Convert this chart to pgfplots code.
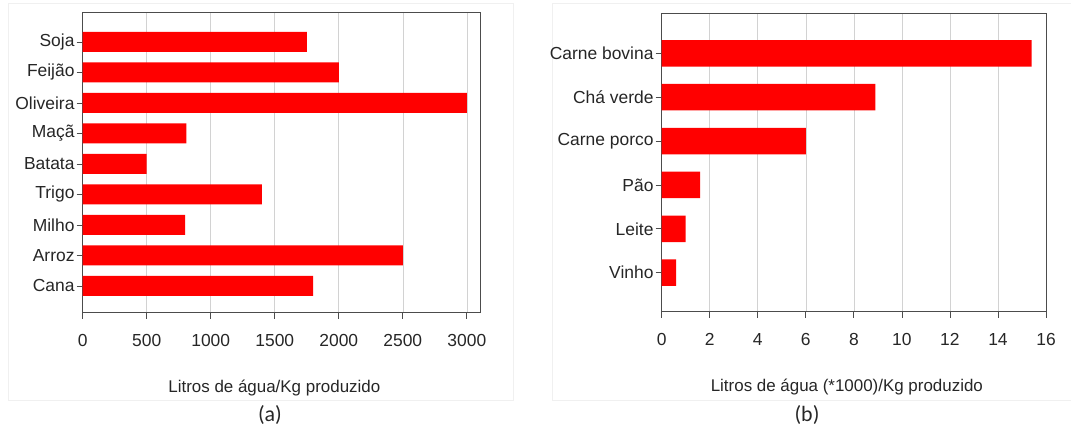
\documentclass[border=0pt]{standalone}
\usepackage{fontspec}
\setmainfont{Liberation Sans}
\newfontfamily\calibri{Carlito}
\usepackage{pgfplots}
\pgfplotsset{compat=1.18}
\definecolor{barred}{HTML}{FF0000}
\definecolor{txt}{HTML}{262626}
\pgfplotsset{
  myax/.style={
    scale only axis,
    xbar,
    anchor=south west,
    axis line style={draw=black!70, line width=1pt},
    xmajorgrids,
    major grid style={gray!35, line width=0.6pt},
    xtick pos=bottom, ytick pos=left,
    tick align=outside,
    major tick length=6bp,
    tick style={black!70, line width=0.8pt},
    ytick=data,
    /pgf/number format/assume math mode=true,
    /pgf/number format/set thousands separator={},
    every tick label/.append style={font=\fontsize{17.5}{20}\selectfont, text=txt},
    xticklabel style={yshift=-12bp},
    yticklabel style={inner sep=2bp},
    xlabel style={at={(axis description cs:0.5,0)}, anchor=center, yshift=-75bp, xshift=-7bp, font=\fontsize{17}{20}\selectfont, text=txt},
  }
}
\begin{document}
\begin{tikzpicture}[x=1bp,y=1bp]
\useasboundingbox (0,0) rectangle (1071,434);
\draw[gray!12] (8,34) rectangle (513,431);
\draw[gray!12] (552,34) rectangle (1078,431);

\begin{axis}[myax,
  at={(82.7bp,121bp)}, width=397.3bp, height=300bp,
  xmin=0, xmax=3103, ymin=-0.885, ymax=8.95,
  xtick={0,500,1000,1500,2000,2500,3000},
  yticklabels={Cana,Arroz,Milho,Trigo,Batata,Maçã,Oliveira,Feijão,Soja},
  bar width=20bp,
  xlabel={Litros de água/Kg produzido},
]
\addplot[fill=barred, draw=none] coordinates {
  (1800,0) (2500,1) (800,2) (1400,3) (500,4) (810,5) (3000,6) (2000,7) (1750,8)
};
\end{axis}

\begin{axis}[myax,
  at={(661.7bp,122.3bp)}, width=384.3bp, height=297.7bp,
  xmin=0, xmax=16, ymin=-0.889, ymax=5.896,
  xtick={0,2,4,6,8,10,12,14,16},
  yticklabels={Vinho,Leite,Pão,Carne porco,Chá verde,Carne bovina},
  bar width=26.5bp,
  xlabel={Litros de água (*1000)/Kg produzido},
]
\addplot[fill=barred, draw=none] coordinates {
  (0.6,0) (1.0,1) (1.6,2) (6.0,3) (8.9,4) (15.4,5)
};
\end{axis}

\node[font=\calibri\fontsize{22}{26}\selectfont, text=black!85] at (270,19) {(a)};
\node[font=\calibri\fontsize{22}{26}\selectfont, text=black!85] at (807,19) {(b)};
\end{tikzpicture}
\end{document}
